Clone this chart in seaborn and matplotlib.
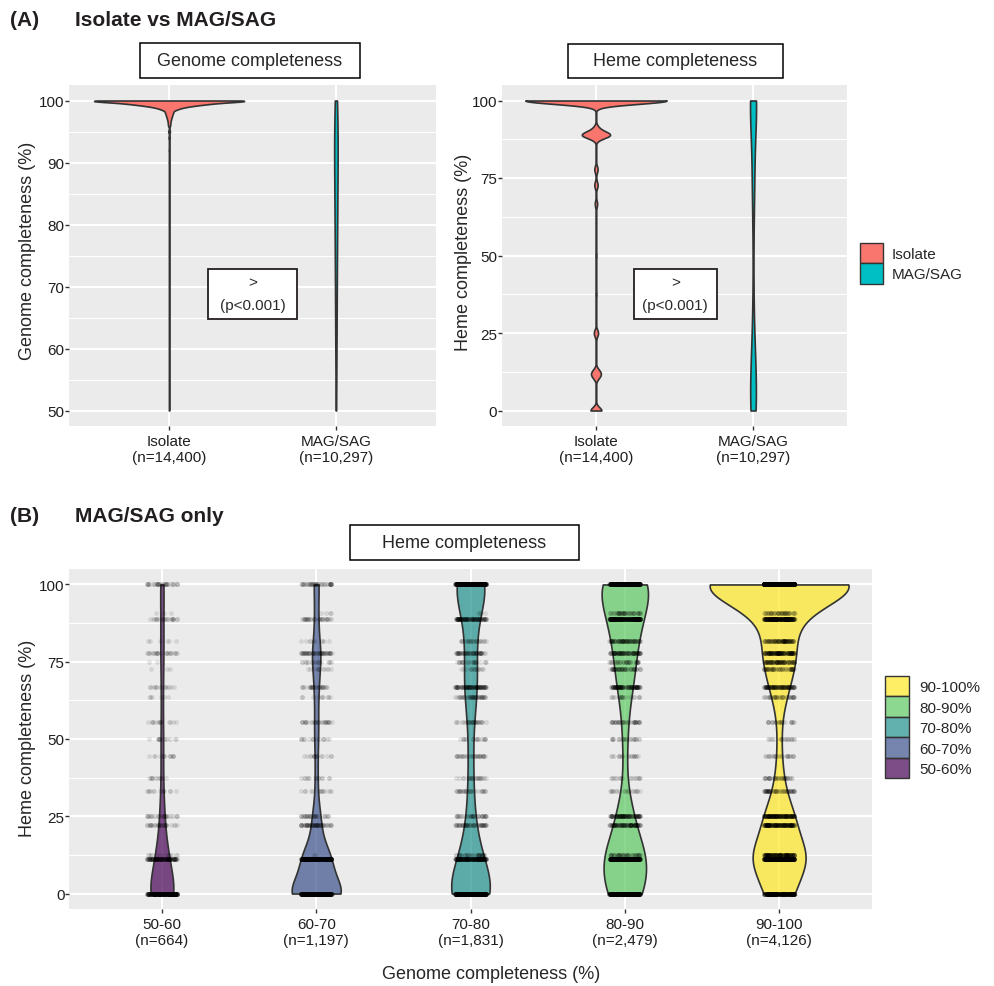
import numpy as np
import pandas as pd
import matplotlib
matplotlib.use("Agg")
import matplotlib.pyplot as plt
import matplotlib.colors as mcolors
from matplotlib.patches import Patch, Rectangle
import seaborn as sns

# ---------------- data ----------------
type_names = ["Isolate", "MAG/SAG"]
type_n = [14400, 10297]

# (A) genome completeness: value nodes and number of genomes at each node
iso_genome_values = [50, 55, 60, 65, 70, 75, 80, 85, 90, 92, 94, 95, 96, 96.5, 97, 97.5, 98, 98.5, 98.75, 99,
                     99.2, 99.4, 99.6, 99.8, 100]
iso_genome_counts = [13, 8, 8, 8, 10, 10, 17, 21, 34, 43, 64, 86, 100, 120, 180, 260, 350, 400, 450, 700,
                     900, 1400, 1800, 1300, 6118]
mag_genome_values = [50, 52.5, 55, 57.5, 60, 62.5, 65, 67.5, 70, 72.5, 75, 77.5, 80, 82.5, 85, 87.5, 90, 92.5,
                     95, 97.5, 100]
mag_genome_counts = [110, 150, 180, 224, 260, 290, 310, 337, 400, 440, 480, 511, 560, 600, 640, 679, 760, 880,
                     1000, 1086, 400]

# heme completeness levels (fractions of pathway steps present)
heme_levels = [0, 11.1, 12.5, 22.2, 25, 33.3, 37.5, 44.4, 50, 55.6, 63.6, 66.7, 72.7, 75, 77.8, 81.8, 88.9, 90.9, 100]
iso_heme_counts = [731, 407, 407, 19, 286, 19, 64, 19, 64, 19, 19, 159, 223, 19, 223, 19, 1844, 318, 9541]

# (B) MAG/SAG heme completeness counts per genome-completeness bin
group_names = ["50-60", "60-70", "70-80", "80-90", "90-100"]
group_n = [664, 1197, 1831, 2479, 4126]
heme_50_60 = [286, 125, 13, 30, 28, 13, 12, 13, 13, 14, 6, 14, 3, 2, 24, 6, 22, 3, 37]
heme_60_70 = [518, 278, 2, 59, 32, 14, 14, 16, 16, 29, 10, 30, 12, 18, 55, 10, 32, 4, 48]
heme_70_80 = [558, 200, 37, 55, 39, 30, 25, 32, 19, 31, 46, 97, 15, 25, 60, 25, 110, 4, 423]
heme_80_90 = [378, 424, 50, 100, 109, 20, 18, 18, 25, 41, 20, 110, 56, 39, 95, 81, 270, 47, 578]
heme_90_100 = [297, 437, 166, 173, 173, 60, 40, 25, 20, 25, 40, 120, 60, 100, 150, 96, 264, 50, 1830]
group_counts = [heme_50_60, heme_60_70, heme_70_80, heme_80_90, heme_90_100]

p_label = ">\n(p<0.001)"

# ---------------- helpers ----------------


def bw_rule(adjust_by_n=None):
    """Silverman rule of thumb (as R's bw.nrd0), returned as a gaussian_kde factor."""
    adjust_by_n = adjust_by_n or {}

    def rule(kde):
        x = np.asarray(kde.dataset).ravel()
        sd = x.std(ddof=1)
        q75, q25 = np.percentile(x, [75, 25])
        lo = min(sd, (q75 - q25) / 1.34)
        if lo <= 0:
            lo = sd
        return 0.9 * lo * x.size ** -0.2 / sd * adjust_by_n.get(x.size, 1.0)
    return rule


def count_scale(ax, counts, width=0.9):
    # violin area proportional to the number of observations (ggplot2 scale = "count")
    polys = []
    for coll in ax.collections:
        paths = coll.get_paths()
        if not paths:
            continue
        v = paths[0].vertices.copy()
        polys.append((coll, v, int(round(v[:, 0].mean()))))
    S = max(counts[i] * np.abs(v[:, 0] - i).max() for _, v, i in polys)
    for coll, v, i in polys:
        k = (width / 2) * counts[i] / S
        v[:, 0] = i + (v[:, 0] - i) * k
        coll.set_verts([v])


# ---------------- data frames ----------------
df_gen = pd.DataFrame({
    "type": np.repeat(type_names, type_n),
    "val": np.concatenate([np.repeat(iso_genome_values, iso_genome_counts),
                           np.repeat(mag_genome_values, mag_genome_counts)]),
})
mag_heme = np.concatenate([np.repeat(heme_levels, c) for c in group_counts])
df_heme = pd.DataFrame({
    "type": np.repeat(type_names, [sum(iso_heme_counts), len(mag_heme)]),
    "val": np.concatenate([np.repeat(heme_levels, iso_heme_counts), mag_heme]),
})
df_B = pd.DataFrame({
    "grp": np.repeat(group_names, [sum(c) for c in group_counts]),
    "val": mag_heme,
})

# ---------------- figure ----------------
W, H = 994, 987
sns.set_theme(style="darkgrid")
plt.rcParams["font.family"] = ["Liberation Sans", "DejaVu Sans"]
fig = plt.figure(figsize=(W / 100, H / 100), dpi=100)
fig.patch.set_facecolor("white")


def fx(x):
    return x / W


def fy(y):
    return 1 - y / H


def ax_at(x0, y0, x1, y1):
    return fig.add_axes([fx(x0), fy(y1), (x1 - x0) / W, (y1 - y0) / H])


axA1 = ax_at(69, 86, 436, 427)
axA2 = ax_at(501.7, 86, 847.3, 427)
axB = ax_at(69.3, 570, 871.7, 910)

type_colors = {"Isolate": "#F8766D", "MAG/SAG": "#00BFC4"}
grp_colors = dict(zip(group_names, ["#440154", "#3B528B", "#21908C", "#5DC863", "#FDE725"]))

common = dict(density_norm="area", common_norm=True, cut=0, inner=None,
              linewidth=1.2, linecolor="#333333", saturation=1, width=0.9, legend=False)

sns.violinplot(data=df_gen, x="type", y="val", hue="type", order=type_names, hue_order=type_names,
               palette=type_colors, bw_method=bw_rule(), bw_adjust=3, gridsize=2000, ax=axA1, **common)
count_scale(axA1, type_n)
sns.violinplot(data=df_heme, x="type", y="val", hue="type", order=type_names, hue_order=type_names,
               palette=type_colors, bw_method=bw_rule({len(mag_heme): 1.6}), bw_adjust=1, gridsize=800,
               ax=axA2, **common)
count_scale(axA2, type_n)
sns.violinplot(data=df_B, x="grp", y="val", hue="grp", order=group_names, hue_order=group_names,
               palette=grp_colors, bw_method=bw_rule(), bw_adjust=1, gridsize=400, ax=axB, **common)
count_scale(axB, group_n)
for coll in axB.collections:
    fc = coll.get_facecolor()
    if len(fc):
        coll.set_facecolor(mcolors.to_rgba(fc[0], 0.7))
sns.stripplot(data=df_B, x="grp", y="val", order=group_names, color="black", alpha=0.09,
              size=3.0, jitter=0.1, linewidth=0.3, edgecolor="black", ax=axB, zorder=3)


def style(ax, yticks, yminor, ylim, ncat, xlabels):
    ax.set_facecolor("#EBEBEB")
    for s in ax.spines.values():
        s.set_visible(False)
    ax.set_xlim(-0.6, ncat - 1 + 0.6)
    ax.set_ylim(*ylim)
    ax.set_yticks(yticks)
    ax.set_yticklabels([str(t) for t in yticks])
    ax.set_yticks(yminor, minor=True)
    ax.set_xticks(range(ncat))
    ax.set_xticklabels(xlabels)
    ax.grid(False)
    ax.grid(which="major", axis="both", color="white", lw=1.5)
    ax.grid(which="minor", axis="y", color="white", lw=0.75)
    ax.set_axisbelow(True)
    ax.tick_params(which="major", length=2.6, width=1.0, color="#333333", labelsize=11,
                   labelcolor="#1F1F1F", bottom=True, left=True)
    ax.tick_params(axis="y", pad=0.8)
    ax.tick_params(axis="x", pad=3)
    ax.tick_params(which="minor", length=0)
    ax.set_xlabel("")
    ax.set_ylabel("")


xl_A = [f"{t}\n(n={n:,})" for t, n in zip(type_names, type_n)]
style(axA1, [50, 60, 70, 80, 90, 100], [55, 65, 75, 85, 95], (47.5, 102.5), 2, xl_A)
style(axA2, [0, 25, 50, 75, 100], [12.5, 37.5, 62.5, 87.5], (-5, 105), 2, xl_A)
style(axB, [0, 25, 50, 75, 100], [12.5, 37.5, 62.5, 87.5], (-5, 105), 5,
      [f"{g}\n(n={n:,})" for g, n in zip(group_names, group_n)])


def fig_box(x0, y0, x1, y1, lw=1.1, ec="black"):
    fig.patches.append(Rectangle((fx(x0), fy(y1)), (x1 - x0) / W, (y1 - y0) / H,
                                 transform=fig.transFigure, facecolor="white", edgecolor=ec, lw=lw, zorder=5))


def fig_txt(x, y, s, **kw):
    fig.text(fx(x), fy(y), s, **kw)


fig_box(140, 44, 360, 79)
fig_txt(250, 61.5, "Genome completeness", ha="center", va="center", fontsize=13, zorder=6)
fig_box(567.7, 45, 783.3, 79)
fig_txt(675.5, 62, "Heme completeness", ha="center", va="center", fontsize=13, zorder=6)
fig_box(350, 526, 579, 561)
fig_txt(464.5, 543.5, "Heme completeness", ha="center", va="center", fontsize=13, zorder=6)

gt, pt = p_label.split("\n")
for (x0, x1) in [(208, 297), (634, 716.7)]:
    fig_box(x0, 270, x1, 319.5, lw=1.3, ec="#231F20")
    fig_txt((x0 + x1) / 2, 282.7, gt, ha="center", va="center", fontsize=11, color="#2B2B2B", zorder=6)
    fig_txt((x0 + x1) / 2, 306, pt, ha="center", va="center", fontsize=11, color="#2B2B2B", zorder=6)

fig_txt(10, 20, "(A)", ha="left", va="center", fontsize=15, fontweight="bold", color="#231F20")
fig_txt(75, 20, "Isolate vs MAG/SAG", ha="left", va="center", fontsize=15, fontweight="bold", color="#231F20")
fig_txt(10, 517, "(B)", ha="left", va="center", fontsize=15, fontweight="bold", color="#231F20")
fig_txt(75, 517, "MAG/SAG only", ha="left", va="center", fontsize=15, fontweight="bold", color="#231F20")

fig_txt(27.5, 251, "Genome completeness (%)", ha="center", va="center", rotation=90, fontsize=13)
fig_txt(463, 252, "Heme completeness (%)", ha="center", va="center", rotation=90, fontsize=13)
fig_txt(28, 738, "Heme completeness (%)", ha="center", va="center", rotation=90, fontsize=13)
fig_txt(491, 975, "Genome completeness (%)", ha="center", va="center", fontsize=13)

fs_px = 11 * 100 / 72
hA = [Patch(facecolor=type_colors[t], edgecolor="#333333", lw=1.0) for t in type_names]
fig.legend(hA, type_names, loc="upper left", bbox_to_anchor=(fx(860), fy(244)), bbox_transform=fig.transFigure,
           frameon=False, fontsize=11, handlelength=23 / fs_px, handleheight=25.5 / fs_px, labelspacing=0,
           handletextpad=9 / fs_px, borderpad=0, borderaxespad=0)
rev = group_names[::-1]
hB = [Patch(facecolor=mcolors.to_rgba(grp_colors[g], 0.7), edgecolor="#333333", lw=1.0) for g in rev]
fig.legend(hB, [g + "%" for g in rev], loc="upper left", bbox_to_anchor=(fx(885), fy(677)),
           bbox_transform=fig.transFigure, frameon=False, fontsize=11, handlelength=24 / fs_px,
           handleheight=25.7 / fs_px, labelspacing=0, handletextpad=10 / fs_px, borderpad=0, borderaxespad=0)

fig.savefig("out.png", dpi=100)
